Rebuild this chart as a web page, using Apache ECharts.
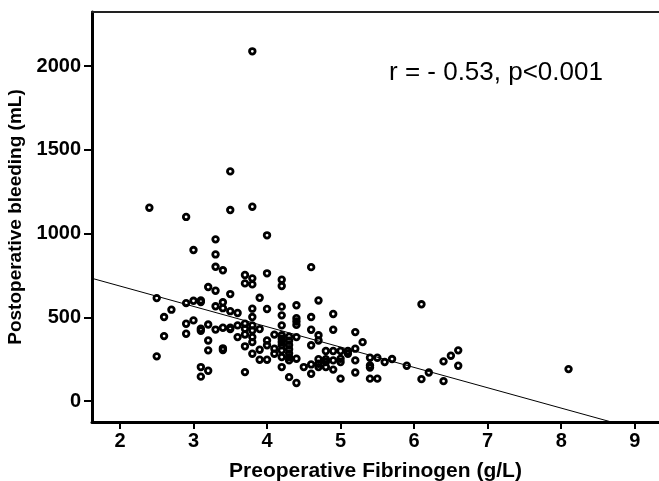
<!DOCTYPE html>
<html><head><meta charset="utf-8">
<script src="https://cdn.jsdelivr.net/npm/echarts@6/dist/echarts.min.js"></script>
<style>html,body{margin:0;padding:0;background:#fff}#c{width:659px;height:481px}</style>
</head><body><div id="c"></div>
<script>
// Preoperative fibrinogen (g/L) and postoperative bleeding (mL)
const fibrinogen = [
 2.4,
 2.5,2.5,
 2.6,2.6,
 2.7,
 2.9,2.9,2.9,2.9,
 3.0,3.0,3.0,
 3.1,3.1,3.1,3.1,3.1,3.1,
 3.2,3.2,3.2,3.2,3.2,
 3.3,3.3,3.3,3.3,3.3,3.3,
 3.4,3.4,3.4,3.4,3.4,3.4,
 3.5,3.5,3.5,3.5,3.5,3.5,
 3.6,3.6,3.6,
 3.7,3.7,3.7,3.7,3.7,3.7,3.7,
 3.8,3.8,3.8,3.8,3.8,3.8,3.8,3.8,3.8,3.8,3.8,
 3.9,3.9,3.9,3.9,
 4.0,4.0,4.0,4.0,4.0,4.0,
 4.1,4.1,4.1,
 4.2,4.2,4.2,4.2,4.2,4.2,4.2,4.2,4.2,4.2,4.2,4.2,
 4.3,4.3,4.3,4.3,4.3,4.3,4.3,4.3,
 4.4,4.4,4.4,4.4,4.4,4.4,4.4,
 4.5,
 4.6,4.6,4.6,4.6,4.6,4.6,
 4.7,4.7,4.7,4.7,4.7,4.7,
 4.8,4.8,4.8,4.8,
 4.9,4.9,4.9,4.9,4.9,
 5.0,5.0,5.0,5.0,
 5.1,5.1,
 5.2,5.2,5.2,5.2,
 5.3,
 5.4,5.4,5.4,5.4,
 5.5,5.5,
 5.6,
 5.7,
 5.9,
 6.1,6.1,
 6.2,
 6.4,6.4,
 6.5,
 6.6,6.6,
 8.1
];
const bleeding = [
 1155,
 615,267,
 502,388,
 546,
 1100,585,462,402,
 902,599,482,
 601,592,432,420,203,146,
 681,457,362,303,181,
 966,876,802,659,566,427,
 781,590,555,438,315,305,
 1372,1141,639,537,438,430,
 526,452,382,
 753,703,462,432,398,327,173,
 2089,1161,733,697,552,502,452,422,382,352,283,
 617,430,307,247,
 990,763,550,362,333,247,
 397,313,283,
 725,687,564,512,452,393,373,353,333,303,263,203,
 385,360,335,310,285,262,243,143,
 572,495,475,455,382,253,108,
 203,
 800,502,426,333,219,163,
 601,393,362,250,223,203,
 299,250,233,203,
 520,426,299,243,188,
 299,253,233,134,
 283,299,
 412,313,243,171,
 352,
 259,213,200,134,
 259,134,
 233,
 251,
 211,
 578,131,
 171,
 237,119,
 271,
 303,211,
 191
];
const xTicks = [2, 3, 4, 5, 6, 7, 8, 9];
const yTicks = [0, 500, 1000, 1500, 2000];
const xRange = [1.62, 9.33];
const yRange = [-125, 2324];
// regression line: bleeding = a + b * fibrinogen
const fitIntercept = 930;
const fitSlope = -121.5;
const annotation = 'r = - 0.53, p<0.001';
const xName = 'Preoperative Fibrinogen (g/L)';
const yName = 'Postoperative bleeding (mL)';

const points = fibrinogen.map((x, i) => [x, bleeding[i]]);
const fitLine = xRange.map(x => [x, fitIntercept + fitSlope * x]);
const FONT = '"Liberation Sans", Arial, Helvetica, sans-serif';
const plain = v => String(v);

const chart = echarts.init(document.getElementById('c'), null, {renderer: 'canvas'});
chart.setOption({
  animation: false,
  backgroundColor: '#fff',
  grid: {left: 92, top: 12, right: 0, bottom: 59, containLabel: false, outerBoundsMode: 'none'},
  xAxis: [{
    type: 'value', min: xRange[0], max: xRange[1],
    axisLine: {show: true, onZero: false, lineStyle: {color: '#000', width: 3}},
    axisTick: {show: true, customValues: xTicks, length: 7, lineStyle: {color: '#000', width: 2}},
    axisLabel: {customValues: xTicks, formatter: plain, color: '#000', fontWeight: 'bold', fontSize: 20, fontFamily: FONT, margin: 9},
    splitLine: {show: false},
    name: xName, nameLocation: 'middle', nameGap: 39,
    nameTextStyle: {color: '#000', fontWeight: 'bold', fontSize: 21, fontFamily: FONT}
  }, {
    type: 'value', position: 'top', min: xRange[0], max: xRange[1],
    axisLine: {show: true, onZero: false, lineStyle: {color: '#222', width: 2}},
    axisTick: {show: false}, axisLabel: {show: false}, splitLine: {show: false}
  }],
  yAxis: {
    type: 'value', min: yRange[0], max: yRange[1],
    axisLine: {show: true, onZero: false, lineStyle: {color: '#000', width: 3}},
    axisTick: {show: true, customValues: yTicks, length: 8, lineStyle: {color: '#000', width: 2}},
    axisLabel: {customValues: yTicks, formatter: plain, color: '#000', fontWeight: 'bold', fontSize: 20, fontFamily: FONT, margin: 11},
    splitLine: {show: false},
    name: yName, nameLocation: 'middle', nameGap: 58,
    nameTextStyle: {color: '#000', fontWeight: 'bold', fontSize: 19, fontFamily: FONT}
  },
  graphic: [{
    type: 'text', x: 389, y: 73,
    style: {text: annotation, fontSize: 26, fontFamily: FONT, fill: '#000', align: 'left', verticalAlign: 'middle'}
  }],
  series: [{
    type: 'line', data: fitLine, symbol: 'none', clip: true, z: 1,
    lineStyle: {color: '#000', width: 1}, silent: true
  }, {
    type: 'scatter', data: points, symbol: 'circle', symbolSize: 5.6, z: 2,
    itemStyle: {color: 'rgba(255,255,255,0)', borderColor: '#000', borderWidth: 2.8, opacity: 1}
  }]
});
</script>
</body></html>
